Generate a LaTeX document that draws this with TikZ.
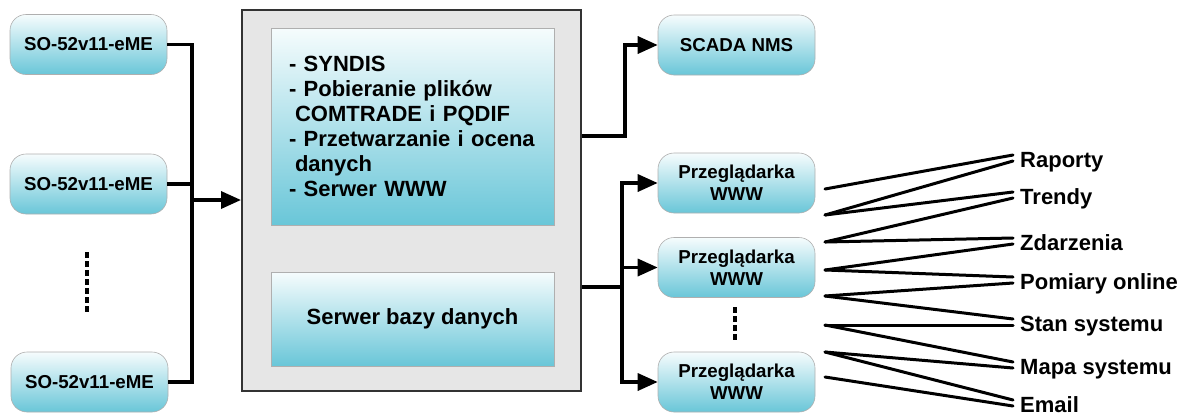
\documentclass[tikz,border=0pt]{standalone}
\usepackage{fontspec}
\setmainfont{Liberation Sans}
\usetikzlibrary{arrows.meta,calc}
\definecolor{boxtop}{RGB}{246,252,253}
\definecolor{boxbot}{RGB}{105,198,216}
\definecolor{panel}{RGB}{230,230,230}
\definecolor{edgegray}{RGB}{175,175,175}
\begin{document}
\begin{tikzpicture}[x=1pt,y=-1pt,
  dev/.style={draw=edgegray, line width=0.6pt, rounded corners=16pt,
    top color=boxtop, bottom color=boxbot, minimum width=157pt,
    minimum height=60pt, inner sep=0pt,
    font=\fontsize{18.7}{22}\selectfont\bfseries, align=center},
  inbox/.style={draw=edgegray, line width=0.6pt, top color=boxtop,
    bottom color=boxbot, minimum width=283pt, inner sep=0pt,
    font=\fontsize{22}{25}\selectfont\bfseries},
  conn/.style={line width=3.4pt},
  arr/.style={line width=3.4pt, -{Triangle[length=20pt,width=17pt]}},
  fan/.style={line width=3pt, line cap=round},
  lab/.style={anchor=base west, inner sep=0pt,
    font=\fontsize{22}{25}\selectfont\bfseries},
  vdots/.style={line width=4.5pt, dash pattern=on 6pt off 3pt}]
\useasboundingbox (0,0) rectangle (1190,418);

% left devices
\node[dev] (so1) at (88.5,44.5) {SO-52v11-eME};
\node[dev] (so2) at (88.5,184) {SO-52v11-eME};
\node[dev] (so3) at (89.5,382) {SO-52v11-eME};
\draw[vdots] (87,252) -- (87,312);

% central panel
\node[draw=black!80, line width=2pt, fill=panel, minimum width=339pt,
  minimum height=381pt, inner sep=0pt] (big) at (411.5,200.5) {};
\node[inbox, minimum height=197pt, text width=247pt, align=left,
  inner xsep=18pt] (in1) at (412.5,126.5)
  {- SYNDIS\\- Pobieranie plików\\\hspace*{6pt}COMTRADE i PQDIF\\- Przetwarzanie i ocena\\\hspace*{6pt}danych\\- Serwer WWW};
\node[inbox, minimum height=94pt] (in2) at (412.5,319) {Serwer bazy danych};

% right boxes
\node[dev] (scada) at (736.5,45) {SCADA NMS};
\node[dev] (pw1) at (736.5,183) {Przeglądarka\\WWW};
\node[dev] (pw2) at (736.5,267.5) {Przeglądarka\\WWW};
\node[dev] (pw3) at (736.5,382) {Przeglądarka\\WWW};
\draw[vdots] (735,307) -- (735,340);

% left connectors
\coordinate (jl) at (192,200);
\draw[conn] (so1.east) -| (jl);
\draw[conn] (so3.east) -| (jl);
\draw[conn] (so2.east) -- (so2.east -| jl);
\draw[arr] (jl) -- (jl -| big.west);

% right connectors
\coordinate (jr1) at (625,136);
\draw[arr] (big.east |- jr1) -- (jr1) |- (scada.west);
\coordinate (jr) at (622,287);
\draw[conn] (big.east |- jr) -- (jr);
\draw[arr] (jr) |- (pw1.west);
\draw[arr] (jr) |- (pw2.west);
\draw[arr] (jr) |- (pw3.west);

% labels
\node[lab] (rap) at (1020,167.5) {Raporty};
\node[lab] (tre) at (1020,204.5) {Trendy};
\node[lab] (zda) at (1020,250.5) {Zdarzenia};
\node[lab] (pom) at (1020,289.5) {Pomiary online};
\node[lab] (sta) at (1020,331.5) {Stan systemu};
\node[lab] (map) at (1020,374.5) {Mapa systemu};
\node[lab] (ema) at (1020,412.5) {Email};
\foreach \l in {rap,tre,zda,pom,sta,map,ema}{
  \coordinate (\l U) at ([shift={(-7,-12.5)}]\l.base west);
  \coordinate (\l L) at ([shift={(-7,-6.5)}]\l.base west);
}
\foreach \n/\y in {1/189,2/215,3/242,4/270,5/296,6/325,7/352,8/377}
  \coordinate (s\n) at (825,\y);
\draw[fan] (s1) -- (rapU);
\draw[fan] (s2) -- (rapL);
\draw[fan] (s2) -- (treU);
\draw[fan] (s3) -- (treL);
\draw[fan] (s3) -- (zdaU);
\draw[fan] (s4) -- (zdaL);
\draw[fan] (s4) -- (pomU);
\draw[fan] (s5) -- (pomL);
\draw[fan] (s5) -- (staU);
\draw[fan] (s6) -- (staL);
\draw[fan] (s6) -- (mapU);
\draw[fan] (s7) -- (mapL);
\draw[fan] (s7) -- (emaU);
\draw[fan] (s8) -- (emaL);
\end{tikzpicture}
\end{document}
